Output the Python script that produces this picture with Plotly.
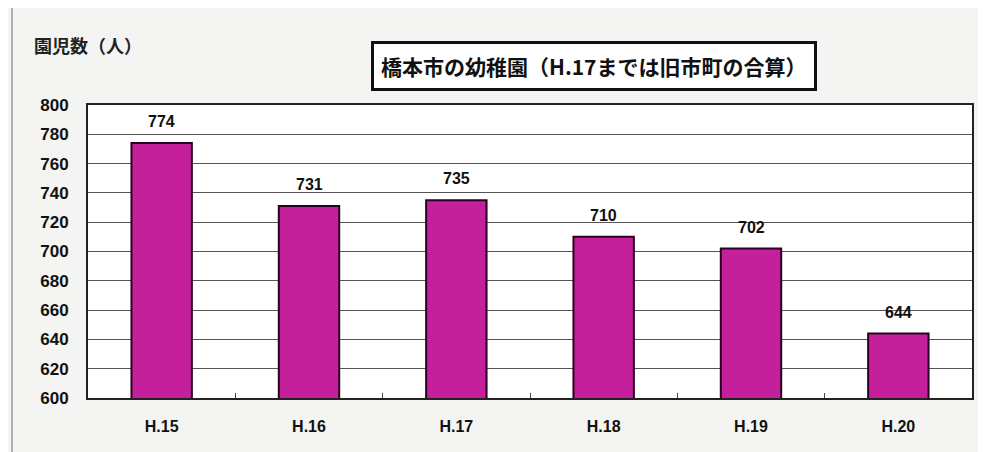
import plotly.graph_objects as go

categories = ["H.15", "H.16", "H.17", "H.18", "H.19", "H.20"]
values = [774, 731, 735, 710, 702, 644]
y_ticks = [600, 620, 640, 660, 680, 700, 720, 740, 760, 780, 800]

title_text = "橋本市の幼稚園（H.17までは旧市町の合算）"
y_label = "園児数（人）"

# page body adds an 8px margin; compensate
O = 8
W, H = 986 - O, 452 - O
L, R, T, B = 88 - O, 14, 105 - O, 54
pw = W - L - R
ph = H - T - B

def px_x(x):
    return (x - O - L) / pw

def px_y(y):
    return (H - B - (y - O)) / ph

fig = go.Figure()
fig.add_trace(go.Bar(
    x=categories, y=values,
    width=0.41,
    marker=dict(color="#c4209c", line=dict(color="#2a0020", width=2)),
))

for c, v in zip(categories, values):
    fig.add_annotation(
        x=c, y=v, xref="x", yref="y", text="<b>%d</b>" % v,
        showarrow=False, yanchor="bottom", yshift=11,
        font=dict(family="Liberation Sans, Arial", size=16, color="#111"),
    )

fig.update_layout(
    width=W, height=H,
    margin=dict(l=L, r=R, t=T, b=B),
    paper_bgcolor="#f4f4f2",
    plot_bgcolor="white",
    showlegend=False,
    font=dict(family="Liberation Sans, Arial", size=14, color="#111"),
)
fig.update_xaxes(
    type="category",
    showline=True, linecolor="#222", linewidth=2, mirror=True,
    ticks="inside", tickson="boundaries", ticklen=5, tickcolor="#444",
    tickfont=dict(family="Liberation Sans, Arial", size=16, color="#111", weight="bold"),
    ticklabelstandoff=13,
    showgrid=False,
)
fig.update_yaxes(
    range=[600, 800],
    tickvals=y_ticks,
    showline=True, linecolor="#222", linewidth=2, mirror=True,
    gridcolor="#555", gridwidth=1,
    ticks="", ticklabelstandoff=14,
    tickfont=dict(family="Liberation Sans, Arial", size=17, color="#111", weight="bold"),
)

fig.add_annotation(
    x=px_x(594), y=px_y(66), xref="paper", yref="paper",
    text="<b>" + title_text + "</b>", showarrow=False,
    font=dict(family="Noto Sans CJK JP", size=21, color="#111"),
    bordercolor="#111", borderwidth=3, bgcolor="white", borderpad=7,
    xanchor="center", yanchor="middle",
)
fig.add_annotation(
    x=px_x(32), y=px_y(45), xref="paper", yref="paper",
    text="<b>" + y_label + "</b>", showarrow=False,
    font=dict(family="Noto Sans CJK JP", size=18, color="#222"),
    xanchor="left", yanchor="middle",
)
fig.add_shape(
    type="rect", xref="paper", yref="paper",
    x0=px_x(12), x1=px_x(979), y0=px_y(470), y1=px_y(7),
    line=dict(color="#999", width=1.5), fillcolor="rgba(0,0,0,0)", layer="below",
)

fig.write_html("out.html")
